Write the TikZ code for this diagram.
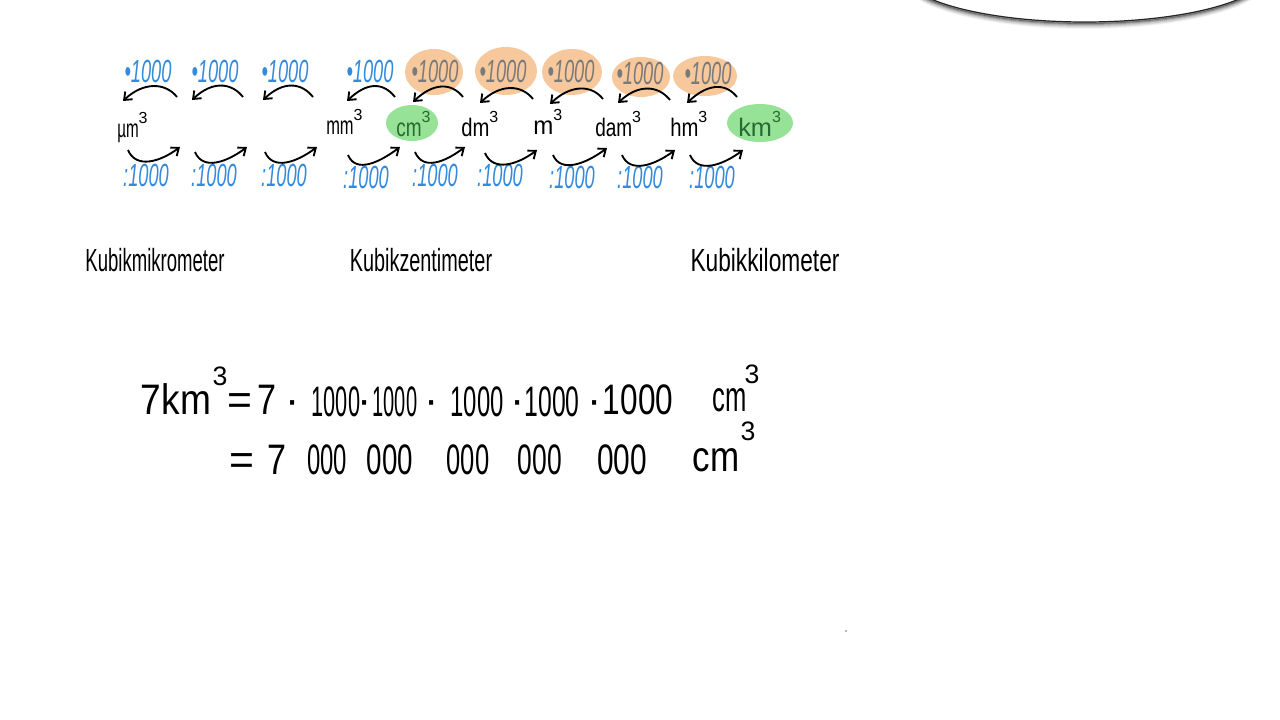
\documentclass[tikz,border=0pt]{standalone}
\usepackage{fontspec}
\setmainfont{Liberation Sans}
\usepackage{graphicx}
\usetikzlibrary{arrows.meta,calc}
\definecolor{hblue}{RGB}{52,138,220}
\definecolor{horange}{RGB}{247,200,156}
\definecolor{hgray}{RGB}{122,122,122}
\definecolor{hgreen}{RGB}{150,226,150}
\definecolor{hdkgreen}{RGB}{38,108,48}
\newcommand{\sx}[2]{\scalebox{#1}[1]{#2}}
\newcommand{\cub}{\raisebox{1.05ex}{\fontsize{12}{12}\selectfont 3}}
\begin{document}
\begin{tikzpicture}[x=0.75pt,y=-0.75pt,
  mul/.style={anchor=base, inner sep=0pt, text=hblue, font=\fontsize{24}{24}\selectfont\itshape},
  mulo/.style={mul, text=hgray},
  unitlbl/.style={anchor=base west, inner sep=0pt, font=\fontsize{19}{19}\selectfont},
  kub/.style={anchor=base, inner sep=0pt, font=\fontsize{24}{24}\selectfont},
  eqn/.style={anchor=base, inner sep=0pt, font=\fontsize{32}{32}\selectfont},
  supr/.style={anchor=center, inner sep=0pt, font=\fontsize{20}{20}\selectfont},
  conv/.style={draw=black, line width=1.4pt, -{Straight Barb[length=5pt,width=8pt]}}
]
\useasboundingbox (0,0) rectangle (1280,720);
\fill[white] (0,0) rectangle (1280,720);

% top-right ellipse with shadow
\begin{scope}
\clip (0,0) rectangle (1280,720);
\foreach \d/\o in {6/0.04,5/0.07,4/0.11,3/0.17,2/0.26,1/0.4}
  {\draw[black,opacity=\o,line width=1.5pt] (1085,-28+\d) ellipse (183 and 50);}
\draw[fill=white, draw=black!85, line width=0.9pt] (1085,-28) ellipse (183 and 50);
\end{scope}
\fill[black!55] (846,631) circle (0.8);

% highlight blobs
\fill[horange] (434,72) ellipse (29 and 23);
\fill[horange] (506,71) ellipse (31 and 24);
\fill[horange] (572,72) ellipse (30 and 23);
\fill[horange] (641,77) ellipse (29 and 20);
\fill[horange] (705,76) ellipse (32 and 20);
\fill[hgreen] (412,123) ellipse (26 and 18);
\fill[hgreen] (760,123) ellipse (33 and 19);

% multiplication labels
\node[mul] (p1) at (148,83) {\sx{0.57}{•1000}};
\node[mul] (p2) at (215,83) {\sx{0.57}{•1000}};
\node[mul] (p3) at (285,83) {\sx{0.57}{•1000}};
\node[mul] (p4) at (370,83) {\sx{0.57}{•1000}};
\node[mulo] (p5) at (435,83) {\sx{0.57}{•1000}};
\node[mulo] (p6) at (503,83) {\sx{0.57}{•1000}};
\node[mulo] (p7) at (571,83) {\sx{0.57}{•1000}};
\node[mulo] (p8) at (640,85) {\sx{0.57}{•1000}};
\node[mulo] (p9) at (708,85) {\sx{0.57}{•1000}};

% division labels
\node[mul] (d1) at (146,187) {\sx{0.57}{:1000}};
\node[mul] (d2) at (214,187) {\sx{0.57}{:1000}};
\node[mul] (d3) at (284,187) {\sx{0.57}{:1000}};
\node[mul] (d4) at (366,189) {\sx{0.57}{:1000}};
\node[mul] (d5) at (435,187) {\sx{0.57}{:1000}};
\node[mul] (d6) at (500,187) {\sx{0.57}{:1000}};
\node[mul] (d7) at (572,189) {\sx{0.57}{:1000}};
\node[mul] (d8) at (640,189) {\sx{0.57}{:1000}};
\node[mul] (d9) at (712,189) {\sx{0.57}{:1000}};

% units
\node[unitlbl] (um) at (117,138) {\sx{0.6}{µm}\cub};
\node[unitlbl] (mm) at (326,135) {\sx{0.65}{mm}\cub};
\node[unitlbl, text=hdkgreen] (cm) at (396,137) {\sx{0.75}{cm}\cub};
\node[unitlbl] (dm) at (461,137) {\sx{0.8}{dm}\cub};
\node[unitlbl] (m) at (533,135) {\sx{0.95}{m}\cub};
\node[unitlbl] (dam) at (595,137) {\sx{0.75}{dam}\cub};
\node[unitlbl] (hm) at (670,137) {\sx{0.8}{hm}\cub};
\node[unitlbl, text=hdkgreen] (km) at (738,137) {\sx{1.0}{km}\cub};

% arrow end points
\foreach \i/\xr/\yr/\xl/\yl in {1/177/97/123/101, 2/243/97/192/100, 3/313/97/263/100,
  4/395/97/347/101, 5/463/97/413/102, 6/533/99/480/103, 7/603/99/550/104,
  8/670/100/618/103, 9/737/97/687/103}
  {\coordinate (ts\i) at (\xr,\yr); \coordinate (te\i) at (\xl,\yl);}
\foreach \i/\xl/\yl/\xr/\yr in {1/128/150/180/147, 2/195/152/247/147, 3/265/152/317/147,
  4/348/155/400/147, 5/415/152/465/147, 6/485/153/537/150, 7/553/155/607/148,
  8/622/155/675/150, 9/690/155/743/150}
  {\coordinate (bs\i) at (\xl,\yl); \coordinate (be\i) at (\xr,\yr);}

% arrows
\foreach \i in {1,...,9} {
  \draw[conv] (ts\i) .. controls ($(ts\i)+(-12,-15)$) and ($(te\i)+(20,-19)$) .. (te\i);
  \draw[conv] (bs\i) .. controls ($(bs\i)+(8,19)$) and ($(be\i)+(-20,15)$) .. (be\i);
}

% names
\node[kub] (k1) at (155,271) {\sx{0.58}{Kubikmikrometer}};
\node[kub] (k2) at (421,271) {\sx{0.62}{Kubikzentimeter}};
\node[kub] (k3) at (765,271) {\sx{0.71}{Kubikkilometer}};

% equation line 1
\node[eqn] (e1) at (176,414) {\sx{0.87}{7km}};
\node[supr] (e1s) at (220,376) {3};
\node[eqn] (e2) at (240,414) {=};
\node[eqn] (e3) at (267,414) {\sx{0.8}{7}};
\node[eqn] (e4) at (293,414) {·};
\node[eqn] (e5) at (336,416) {\sx{0.51}{1000}};
\node[eqn] (e6) at (365,414) {·};
\node[eqn] (e7) at (395,416) {\sx{0.47}{1000}};
\node[eqn] (e8) at (432,414) {·};
\node[eqn] (e9) at (477,416) {\sx{0.56}{1000}};
\node[eqn] (e10) at (518,414) {·};
\node[eqn] (e11) at (552,416) {\sx{0.58}{1000}};
\node[eqn] (e12) at (595,414) {·};
\node[eqn] (e13) at (638,414) {\sx{0.74}{1000}};
\node[eqn] (e14) at (730,411) {\sx{0.6}{cm}};
\node[supr] (e14s) at (752,374) {3};

% equation line 2
\node[eqn] (f1) at (242,474) {=};
\node[eqn] (f2) at (277,474) {\sx{0.8}{7}};
\node[eqn] (f3) at (327,474) {\sx{0.56}{000}};
\node[eqn] (f4) at (390,474) {\sx{0.65}{000}};
\node[eqn] (f5) at (468,474) {\sx{0.6}{000}};
\node[eqn] (f6) at (540,474) {\sx{0.62}{000}};
\node[eqn] (f7) at (622,474) {\sx{0.7}{000}};
\node[eqn] (f8) at (716,471) {\sx{0.82}{cm}};
\node[supr] (f8s) at (748,431) {3};
\end{tikzpicture}
\end{document}
